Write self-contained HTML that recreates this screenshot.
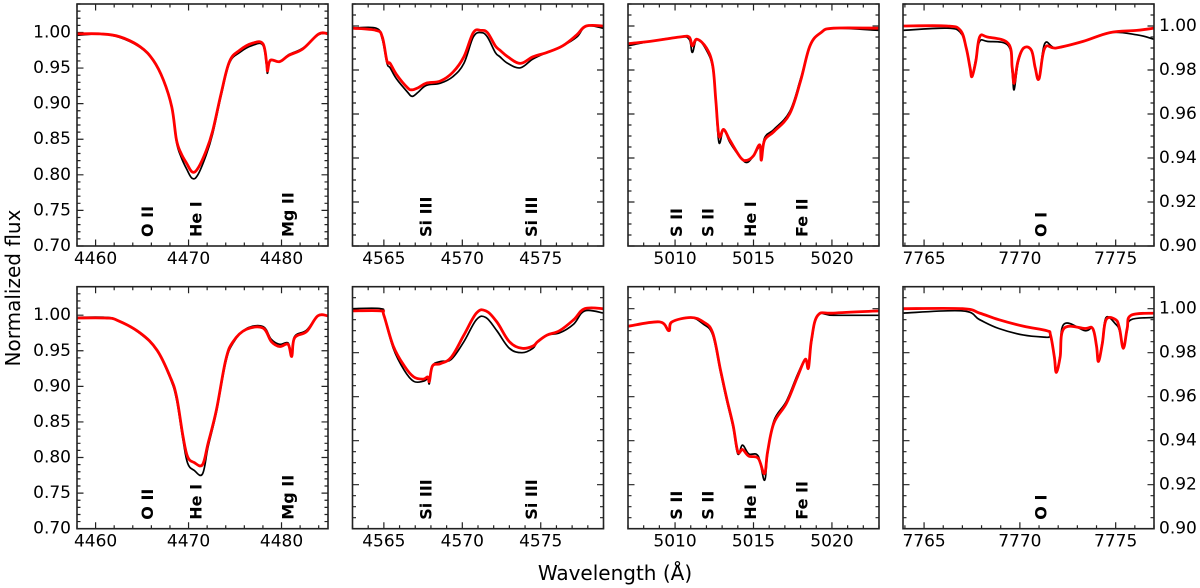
<!DOCTYPE html>
<html><head><meta charset="utf-8"><style>
html,body{margin:0;padding:0;background:#fff;}
svg{display:block;font-family:"DejaVu Sans","Liberation Sans",sans-serif;}
</style></head><body>
<svg id="chart" width="1200" height="588" viewBox="0 0 1200 588">
<text x="13" y="288" font-size="20" text-anchor="middle" dominant-baseline="central" transform="rotate(-90 13 288)">Normalized flux</text>
<text x="615" y="573" font-size="20" text-anchor="middle" dominant-baseline="central">Wavelength (Å)</text>
</svg>
<script>
// ---------- data ----------
const xlims = [[4458,4485],[4563,4579],[5007,5023],[7763.9,7777]];
const ylims = [[0.70,1.04],[0.90,1.01],[0.90,1.01],[0.90,1.01]];
const xMajor = [10,5,5,5];
const xMinor = [2,1,1,1];
const yMajor = [0.05,0.02,0.02,0.02];
const yMinor = [0.01,0.005,0.005,0.005];
const yTickLabels = ["0.70","0.75","0.80","0.85","0.90","0.95","1.00"];
const yTickLabelsR = ["0.90","0.92","0.94","0.96","0.98","1.00"];
const xTickLabels = [["4460","4470","4480"],["4565","4570","4575"],["5010","5015","5020"],["7765","7770","7775"]];
const xTickValues = [[4460,4470,4480],[4565,4570,4575],[5010,5015,5020],[7765,7770,7775]];
const lineNames = [["O II","He I","Mg II"],["Si III","Si III"],["S II","S II","He I","Fe II"],["O I"]];
const lineWaves = [[4465.6,4470.8,4480.7],[4567.7,4574.4],[5010.1,5012.1,5014.8,5018.1],[7771.1]];

// panel 1 (He I 4471)
const w1t = [4458.0,4460.5,4462.6,4464.8,4466.2,4467.3,4468.2,4468.7,4469.2,4469.8,4470.4,4471.0,4471.9,4472.6,4473.5,4474.4,4475.5,4476.9,4478.0,4478.4,4478.5,4478.8,4479.8,4480.8,4482.3,4484.0,4485.0];
const m1t = [0.998,0.998,0.994,0.980,0.961,0.933,0.895,0.849,0.830,0.816,0.804,0.809,0.834,0.862,0.914,0.959,0.975,0.985,0.984,0.957,0.946,0.961,0.959,0.968,0.977,0.998,0.998];
const o1t = [0.996,0.998,0.993,0.979,0.960,0.932,0.894,0.846,0.825,0.808,0.795,0.800,0.828,0.858,0.911,0.957,0.972,0.982,0.982,0.952,0.943,0.960,0.959,0.969,0.978,0.997,0.998];
const w1b = [4458.0,4461.0,4462.3,4464.8,4466.6,4468.0,4468.7,4469.4,4469.9,4470.6,4471.5,4472.1,4473.0,4474.0,4474.8,4476.2,4478.0,4478.9,4479.8,4480.7,4481.1,4481.4,4482.7,4483.9,4485.0];
const m1b = [0.996,0.996,0.993,0.975,0.951,0.914,0.886,0.830,0.801,0.793,0.790,0.820,0.867,0.937,0.963,0.980,0.982,0.963,0.956,0.959,0.942,0.968,0.977,0.999,0.999];
const o1b = [0.997,0.997,0.993,0.974,0.950,0.912,0.882,0.825,0.792,0.782,0.777,0.815,0.864,0.934,0.961,0.981,0.984,0.966,0.959,0.961,0.945,0.970,0.979,0.999,0.999];
// panel 2 (Si III)
const w2t = [4563.0,4564.5,4564.9,4565.2,4565.4,4565.8,4566.5,4566.8,4567.2,4567.7,4568.6,4569.4,4570.1,4570.7,4571.2,4571.6,4572.1,4572.4,4572.9,4573.7,4574.5,4575.4,4576.4,4577.3,4577.9,4579.0];
const m2t = [0.999,0.998,0.995,0.984,0.983,0.978,0.972,0.971,0.972,0.974,0.975,0.979,0.986,0.997,0.998,0.997,0.991,0.989,0.986,0.983,0.986,0.988,0.991,0.996,1.000,1.000];
const o2t = [0.999,0.999,0.994,0.983,0.981,0.976,0.970,0.968,0.970,0.973,0.974,0.977,0.983,0.995,0.997,0.995,0.988,0.986,0.983,0.981,0.985,0.988,0.991,0.995,1.000,0.999];
const w2b = [4563.0,4564.8,4565.0,4565.6,4566.3,4566.9,4567.5,4567.8,4567.9,4568.1,4568.6,4569.3,4570.1,4570.9,4571.5,4572.2,4573.0,4573.8,4574.5,4574.8,4575.4,4576.2,4577.1,4577.8,4579.0];
const m2b = [0.999,0.999,0.997,0.983,0.974,0.969,0.968,0.969,0.967,0.974,0.975,0.978,0.988,0.998,0.999,0.994,0.985,0.982,0.983,0.985,0.988,0.990,0.995,1.000,1.000];
const o2b = [1.000,1.000,0.997,0.982,0.972,0.967,0.967,0.968,0.966,0.974,0.976,0.977,0.985,0.995,0.996,0.990,0.982,0.980,0.982,0.985,0.988,0.989,0.993,0.999,0.998];
// panel 3 (He I 5015)
const w3t = [5007.0,5008.4,5010.3,5010.9,5011.1,5011.4,5012.0,5012.4,5012.6,5012.8,5013.1,5013.5,5014.2,5014.6,5015.0,5015.4,5015.5,5015.7,5016.3,5017.3,5018.0,5018.6,5019.3,5020.1,5023.0];
const m3t = [0.992,0.993,0.995,0.995,0.991,0.994,0.990,0.982,0.966,0.950,0.953,0.948,0.940,0.939,0.941,0.946,0.939,0.948,0.952,0.960,0.975,0.991,0.997,0.999,0.999];
const o3t = [0.991,0.993,0.995,0.994,0.988,0.994,0.989,0.981,0.965,0.947,0.953,0.947,0.940,0.938,0.941,0.945,0.939,0.949,0.953,0.961,0.976,0.991,0.997,0.999,0.998];
const w3b = [5007.0,5009.0,5009.6,5009.8,5011.0,5011.8,5012.4,5012.9,5013.3,5013.7,5014.0,5014.3,5014.7,5015.3,5015.7,5015.9,5016.3,5017.1,5017.8,5018.3,5018.5,5018.7,5019.1,5020.1,5023.0];
const m3b = [0.992,0.994,0.990,0.994,0.996,0.994,0.989,0.972,0.959,0.947,0.935,0.936,0.933,0.932,0.925,0.935,0.948,0.957,0.969,0.977,0.973,0.986,0.997,0.998,0.999];
const o3b = [0.992,0.994,0.990,0.994,0.996,0.993,0.988,0.971,0.958,0.946,0.934,0.938,0.934,0.933,0.922,0.934,0.949,0.958,0.970,0.977,0.974,0.985,0.997,0.997,0.997];
// panel 4 (O I triplet)
const w4t = [7763.9,7766.2,7766.9,7767.2,7767.4,7767.5,7767.7,7767.9,7768.3,7769.4,7769.6,7769.7,7769.9,7770.2,7770.6,7770.8,7771.0,7771.3,7771.9,7773.3,7774.7,7776.1,7777.0];
const m4t = [1.000,1.000,0.998,0.990,0.981,0.977,0.984,0.995,0.995,0.992,0.981,0.974,0.984,0.990,0.989,0.981,0.976,0.990,0.990,0.993,0.997,0.998,0.999];
const o4t = [0.998,0.999,0.997,0.990,0.981,0.977,0.985,0.993,0.993,0.991,0.979,0.971,0.983,0.990,0.989,0.981,0.976,0.992,0.990,0.993,0.997,0.996,0.994];
const w4b = [7763.9,7767.0,7767.9,7768.9,7770.2,7771.4,7771.6,7771.8,7771.9,7772.1,7772.3,7773.4,7773.8,7774.0,7774.1,7774.3,7774.5,7775.0,7775.2,7775.4,7775.6,7775.8,7777.0];
const m4b = [1.000,1.000,0.998,0.995,0.992,0.990,0.988,0.978,0.971,0.978,0.991,0.991,0.991,0.983,0.976,0.984,0.995,0.995,0.991,0.982,0.991,0.997,0.998];
const o4b = [0.998,0.999,0.995,0.991,0.988,0.987,0.987,0.978,0.971,0.979,0.993,0.990,0.991,0.983,0.976,0.985,0.996,0.993,0.990,0.982,0.990,0.995,0.996];

const waves = [[w1t,w2t,w3t,w4t],[w1b,w2b,w3b,w4b]];
const models = [[m1t,m2t,m3t,m4t],[m1b,m2b,m3b,m4b]];
const observed = [[o1t,o2t,o3t,o4t],[o1b,o2b,o3b,o4b]];

// ---------- drawing ----------
const NS = "http://www.w3.org/2000/svg";
const svg = document.getElementById("chart");
const lefts = [77,352.5,628,903];
const tops = [4,286.7];
const PW = 251, PH = 242;
function mk(tag, attrs, parent){
  const e = document.createElementNS(NS, tag);
  for (const k in attrs) e.setAttribute(k, attrs[k]);
  (parent||svg).appendChild(e);
  return e;
}
function smoothPath(pts){
  let d = "M"+pts[0][0].toFixed(2)+","+pts[0][1].toFixed(2);
  const k = 0.18;
  for (let i=0;i<pts.length-1;i++){
    const p0 = pts[Math.max(0,i-1)], p1 = pts[i], p2 = pts[i+1], p3 = pts[Math.min(pts.length-1,i+2)];
    const c1x = p1[0]+(p2[0]-p0[0])*k, c1y = p1[1]+(p2[1]-p0[1])*k;
    const c2x = p2[0]-(p3[0]-p1[0])*k, c2y = p2[1]-(p3[1]-p1[1])*k;
    d += `C${c1x.toFixed(2)},${c1y.toFixed(2)} ${c2x.toFixed(2)},${c2y.toFixed(2)} ${p2[0].toFixed(2)},${p2[1].toFixed(2)}`;
  }
  return d;
}
function fmtRow(r){return r===0?"top":"bottom";}
for (let r=0;r<2;r++){
  for (let c=0;c<4;c++){
    const L=lefts[c], T=tops[r], xl=xlims[c], yl=ylims[c];
    const X = v => L + (v-xl[0])/(xl[1]-xl[0])*PW;
    const Y = v => T + (yl[1]-v)/(yl[1]-yl[0])*PH;
    const g = mk("g",{});
    
    
    const cid = "clip"+r+c;
    const cp = mk("clipPath",{id:cid},g);
    mk("rect",{x:L,y:T,width:PW,height:PH},cp);
    let tp = "";
    const eps=1e-6;
    for (let v=Math.ceil(xl[0]/xMinor[c])*xMinor[c]; v<=xl[1]+eps; v+=xMinor[c]){
      const isMaj = Math.abs(v/xMajor[c]-Math.round(v/xMajor[c]))<1e-4;
      const len = isMaj?6.5:3.5, x=X(v);
      tp += `M${x},${T}v${len}M${x},${T+PH}v${-len}`;
    }
    for (let v=Math.ceil((yl[0]-eps)/yMinor[c])*yMinor[c]; v<=yl[1]+eps; v+=yMinor[c]){
      const isMaj = Math.abs(v/yMajor[c]-Math.round(v/yMajor[c]))<1e-4;
      const len = isMaj?6.5:3.5, y=Y(v);
      tp += `M${L},${y}h${len}M${L+PW},${y}h${-len}`;
    }
    const ticks = mk("path",{d:tp,stroke:"#222","stroke-width":1.2,fill:"none"},g);
    
    
    const wv = waves[r][c];
    const ptsO = wv.map((w,i)=>[X(w),Y(observed[r][c][i])]);
    const ptsM = wv.map((w,i)=>[X(w),Y(models[r][c][i])]);
    const po = mk("path",{d:smoothPath(ptsO),stroke:"#000","stroke-width":1.7,fill:"none","clip-path":`url(#${cid})`,"stroke-linejoin":"round"},g);
    
    
    const pm = mk("path",{d:smoothPath(ptsM),stroke:"#f00","stroke-width":2.8,fill:"none","clip-path":`url(#${cid})`,"stroke-linejoin":"round"},g);
    
    
    const fr = mk("rect",{x:L,y:T,width:PW,height:PH,fill:"none",stroke:"#222","stroke-width":1.6},g);
    
    
    xTickValues[c].forEach((v,i)=>{
      const t = mk("text",{x:X(v),y:T+PH+13,"font-size":17,"text-anchor":"middle","dominant-baseline":"central"},g);
      t.textContent = xTickLabels[c][i];
      
      
    });
    if (c===0){
      yTickLabels.forEach(s=>{
        const t = mk("text",{x:L-6,y:Y(parseFloat(s)),"font-size":17,"text-anchor":"end","dominant-baseline":"central"},g);
        t.textContent = s;
        
        
      });
    }
    if (c===3){
      yTickLabelsR.forEach(s=>{
        const t = mk("text",{x:L+PW+5,y:Y(parseFloat(s)),"font-size":17,"text-anchor":"start","dominant-baseline":"central"},g);
        t.textContent = s;
        
        
      });
    }
    lineNames[c].forEach((n,i)=>{
      const x = X(lineWaves[c][i]), yb = T+PH-9;
      const t = mk("text",{x:x,y:yb,"font-size":16,"font-weight":"bold","text-anchor":"start","dominant-baseline":"central",transform:`rotate(-90 ${x} ${yb})`},g);
      t.textContent = n;
      
      
    });
  }
}
</script>
</body></html>
